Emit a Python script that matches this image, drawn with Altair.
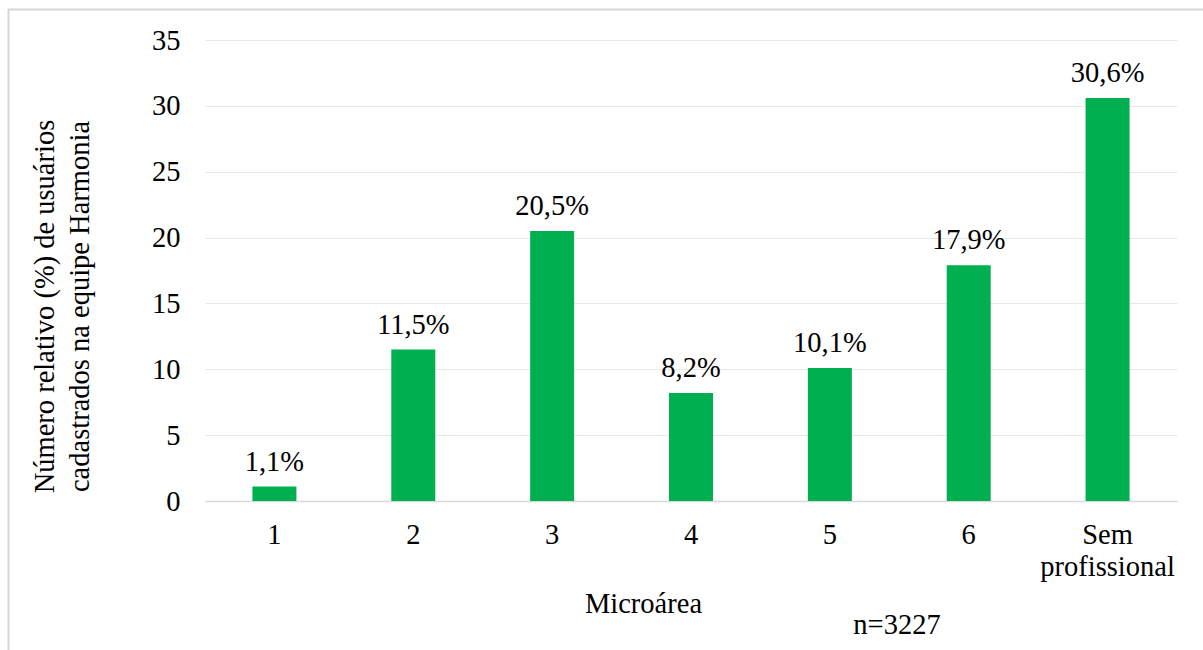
import altair as alt
import pandas as pd

# Share of registered users per micro-area (team Harmonia)
microareas = ["1", "2", "3", "4", "5", "6", "Sem profissional"]
percentages = [1.1, 11.5, 20.5, 8.2, 10.1, 17.9, 30.6]
y_ticks = [0, 5, 10, 15, 20, 25, 30, 35]
sample_note = "n=3227"

FONT = "Liberation Serif"
FS = 28.5
GREEN = "#00B050"

df = pd.DataFrame({"microarea": microareas, "pct": percentages})

x_enc = alt.X(
    "microarea:N",
    sort=microareas,
    scale=alt.Scale(paddingInner=0, paddingOuter=0),
    axis=alt.Axis(
        title="Microárea",
        titleFont=FONT,
        titleFontSize=FS,
        titleFontWeight="normal",
        titleColor="black",
        titleX=438,
        titleY=102,
        titleBaseline="middle",
        titleAlign="center",
        labelFont=FONT,
        labelFontSize=FS,
        labelColor="black",
        labelAngle=0,
        labelPadding=19,
        labelLineHeight=32,
        labelExpr="datum.label == 'Sem profissional' ? ['Sem', 'profissional'] : datum.label",
        ticks=False,
        domainColor="#d9d9d9",
        domainWidth=1.5,
        grid=False,
    ),
)

y_enc = alt.Y(
    "pct:Q",
    scale=alt.Scale(domain=[0, 35], nice=False),
    axis=alt.Axis(
        values=y_ticks,
        title=["Número relativo (%) de usuários", "cadastrados na equipe Harmonia"],
        titleFont=FONT,
        titleFontSize=FS,
        titleFontWeight="normal",
        titleColor="black",
        titleAngle=270,
        titleAlign="center",
        titleBaseline="top",
        titleLineHeight=35,
        titleX=-175,
        titleY=266,
        labelFont=FONT,
        labelFontSize=FS,
        labelColor="black",
        labelPadding=25,
        ticks=False,
        domain=False,
        gridColor="#e8e8e8",
        gridWidth=1,
    ),
)

bars = alt.Chart(df).mark_bar(size=44, color=GREEN).encode(x=x_enc, y=y_enc)

labels = (
    alt.Chart(df)
    .transform_calculate(
        label="replace(format(datum.pct, '.1f'), '.', ',') + '%'"
    )
    .mark_text(font=FONT, fontSize=FS, color="black", baseline="alphabetic", dy=-16)
    .encode(
        x=alt.X("microarea:N", sort=microareas),
        y=alt.Y("pct:Q"),
        text="label:N",
    )
)

note = (
    alt.Chart(pd.DataFrame({"note": [sample_note]}))
    .mark_text(font=FONT, fontSize=FS, color="black", baseline="middle", align="center")
    .encode(x=alt.value(692), y=alt.value(585), text="note:N")
)

# Outer frame of the figure (top and left edges)
frame_top = alt.Chart(pd.DataFrame({"k": [0]})).mark_rule(
    color="#d6d6d6", strokeWidth=2
).encode(x=alt.value(-197), x2=alt.value(998), y=alt.value(-30.5))
frame_left = alt.Chart(pd.DataFrame({"k": [0]})).mark_rule(
    color="#d6d6d6", strokeWidth=2
).encode(x=alt.value(-196.5), y=alt.value(-31), y2=alt.value(610))

chart = (
    alt.layer(bars, labels, note, frame_top, frame_left)
    .properties(
        width=972,
        height=461,
        autosize=alt.AutoSizeParams(type="none"),
        padding={"left": 205, "top": 40, "right": 26, "bottom": 149},
        background="white",
    )
    .configure_view(stroke=None)
)

chart.save("out.html", embed_options={"renderer": "svg", "actions": False})
